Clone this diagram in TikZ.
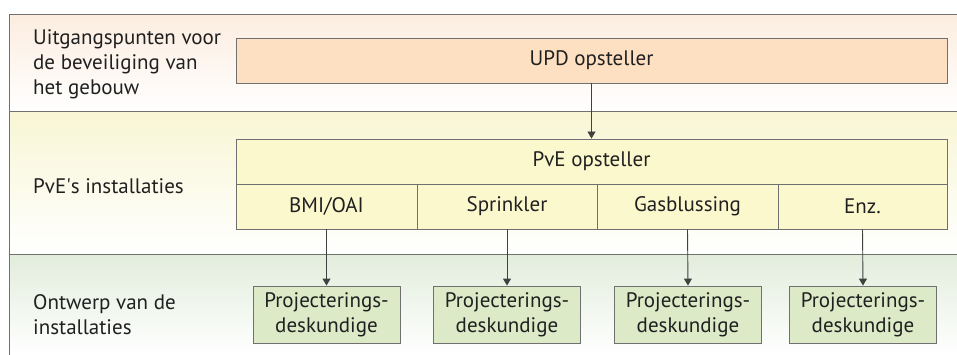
\documentclass[tikz,border=0pt]{standalone}
\usepackage{fontspec}
\setmainfont{PT Sans}
\usetikzlibrary{arrows.meta}
\definecolor{bandline}{HTML}{707070}
\definecolor{peachtop}{HTML}{FCEDE0}
\definecolor{yellowtop}{HTML}{F8F6D4}
\definecolor{greentop}{HTML}{E2EDDC}
\definecolor{peachbox}{HTML}{FDE0C2}
\definecolor{yellowbox}{HTML}{FBF8CE}
\definecolor{greenbox}{HTML}{DDEAC8}
\definecolor{txt}{HTML}{202020}
\tikzset{
  lbl/.style={anchor=west, align=left, font=\fontsize{21}{25}\selectfont, text=txt, inner sep=0pt},
  boxtxt/.style={font=\fontsize{21}{25}\selectfont, text=txt},
  conn/.style={draw=black!75, line width=0.9pt, -{Triangle[length=7pt,width=8pt]}},
  cell/.style={draw=bandline, line width=0.9pt, fill=yellowbox, boxtxt, minimum height=45pt, inner sep=0pt},
  projbox/.style={draw=bandline, line width=0.9pt, fill=greenbox, boxtxt, minimum width=147pt, minimum height=57pt, align=center, inner sep=0pt}
}
\begin{document}
\begin{tikzpicture}[x=1pt,y=-1pt]
\useasboundingbox (0,0) rectangle (957,355);
% bands
\shade[top color=peachtop, bottom color=white] (9.5,15) rectangle (957,112);
\shade[top color=yellowtop, bottom color=white] (9.5,112) rectangle (957,254);
\shade[top color=greentop, bottom color=white] (9.5,254) rectangle (957,355);
\draw[bandline, line width=1pt] (957,15) -- (9.5,15) -- (9.5,355);
\draw[bandline, line width=1pt] (9.5,112) -- (957,112);
\draw[bandline, line width=1pt] (9.5,254) -- (957,254);
% left labels
\node[lbl] (l1) at (33,64) {Uitgangspunten voor\\de beveiliging van\\het gebouw};
\node[lbl] (l2) at (33,186) {PvE\textquotesingle s installaties};
\node[lbl] (l3) at (33,315) {Ontwerp van de\\installaties};
% UPD box
\node[draw=bandline, line width=0.9pt, fill=peachbox, boxtxt, minimum width=711pt, minimum height=45pt, inner sep=0pt] (upd) at (591.5,60.5) {UPD opsteller};
% PvE box
\node[cell, minimum width=711pt] (pve) at (591.5,161.5) {PvE opsteller};
\node[cell, minimum width=181pt] (c1) at (326.5,206.5) {BMI/OAI};
\node[cell, minimum width=180pt] (c2) at (507,206.5) {Sprinkler};
\node[cell, minimum width=181pt] (c3) at (687.5,206.5) {Gasblussing};
\node[cell, minimum width=169pt] (c4) at (862.5,206.5) {Enz.};
% project boxes
\node[projbox] (p1) at (326.5,314.5) {Projecterings-\\deskundige};
\node[projbox] (p2) at (507,314.5) {Projecterings-\\deskundige};
\node[projbox] (p3) at (688,314.5) {Projecterings-\\deskundige};
\node[projbox] (p4) at (863,314.5) {Projecterings-\\deskundige};
% connectors
\draw[conn] (upd.south) -- (pve.north);
\draw[conn] (c1.south) -- (p1.north);
\draw[conn] (c2.south) -- (p2.north);
\draw[conn] (c3.south) -- (p3.north);
\draw[conn] (c4.south) -- (p4.north);
\end{tikzpicture}
\end{document}
